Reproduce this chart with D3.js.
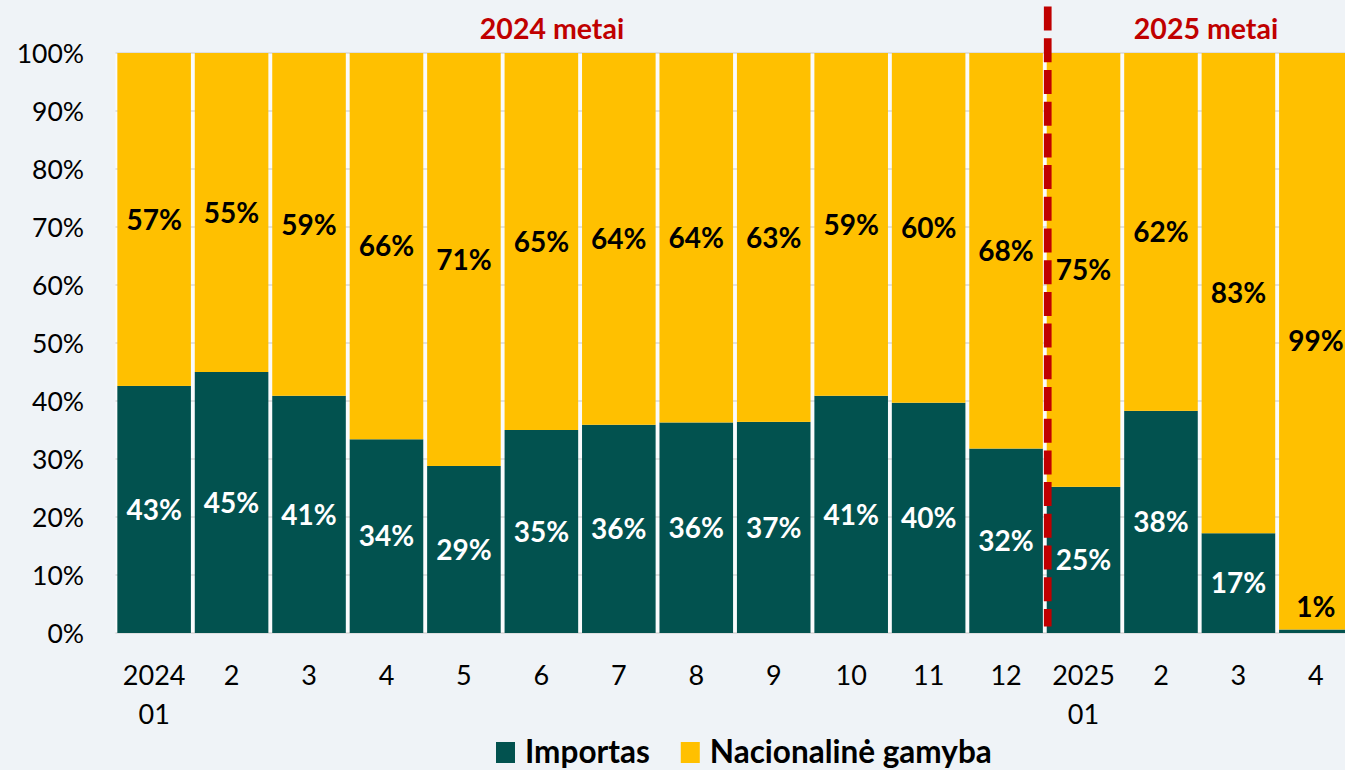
<!DOCTYPE html>
<html>
<head>
<meta charset="utf-8">
<script src="https://cdn.jsdelivr.net/npm/d3@7"></script>
<style>
  body { margin: 0; background: #eff3f7; }
  svg { display: block; font-family: Lato, "Open Sans", sans-serif; }
</style>
</head>
<body>
<svg id="chart"></svg>
<script>
// months, shares (%)
const months = ["2024\n01", "2", "3", "4", "5", "6", "7", "8", "9", "10", "11", "12", "2025\n01", "2 ", "3 ", "4 "];
const importas = [42.6, 45.0, 40.9, 33.4, 28.8, 35.0, 35.9, 36.3, 36.4, 40.9, 39.7, 31.8, 25.2, 38.3, 17.2, 0.6];
const nacionaline = [57.4, 55.0, 59.1, 66.6, 71.2, 65.0, 64.1, 63.7, 63.6, 59.1, 60.3, 68.2, 74.8, 61.7, 82.8, 99.4];
const importasLabels = ["43%", "45%", "41%", "34%", "29%", "35%", "36%", "36%", "37%", "41%", "40%", "32%", "25%", "38%", "17%", ""];
const nacionalineLabels = ["57%", "55%", "59%", "66%", "71%", "65%", "64%", "64%", "63%", "59%", "60%", "68%", "75%", "62%", "83%", "99%"];
const yTicks = [0, 10, 20, 30, 40, 50, 60, 70, 80, 90, 100];
const seriesNames = ["Importas", "Nacionalinė gamyba"];
const yearLabels = ["2024 metai", "2025 metai"];

const width = 1345, height = 770;
const colors = ["#02524f", "#ffc000"];

const svg = d3.select("#chart").attr("width", width).attr("height", height);

const x = d3.scaleBand().domain(months).range([115.4, 1354.6])
  .paddingInner(0.05).paddingOuter(0.025);
const y = d3.scaleLinear().domain([0, 100]).range([633, 53]);

// plot area (white shows between bars)
svg.append("rect")
  .attr("x", x.range()[0]).attr("y", y(100))
  .attr("width", x.range()[1] - x.range()[0]).attr("height", y(0) - y(100))
  .attr("fill", "#fafbfc");

// gridlines
svg.append("g").selectAll("line")
  .data(yTicks)
  .join("line")
  .attr("x1", x.range()[0]).attr("x2", x.range()[1])
  .attr("y1", d => y(d)).attr("y2", d => y(d))
  .attr("stroke", "#d9d9d9").attr("stroke-width", 1.5);

// stacked bars
const rows = months.map((m, i) => ({ month: m, Importas: importas[i], "Nacionalinė gamyba": nacionaline[i] }));
const stack = d3.stack().keys(seriesNames)(rows);

svg.append("g").selectAll("g")
  .data(stack)
  .join("g")
  .attr("fill", (d, i) => colors[i])
  .selectAll("rect")
  .data(d => d)
  .join("rect")
  .attr("x", d => x(d.data.month))
  .attr("y", d => y(d[1]))
  .attr("width", x.bandwidth())
  .attr("height", d => y(d[0]) - y(d[1]));

// value labels
const labelSets = [importasLabels, nacionalineLabels];
svg.append("g").selectAll("g")
  .data(stack)
  .join("g")
  .attr("fill", (d, i) => i === 0 ? "#ffffff" : "#000000")
  .selectAll("text")
  .data((d, si) => d.map((p, i) => ({ p, text: labelSets[si][i] })))
  .join("text")
  .attr("x", d => x(d.p.data.month) + x.bandwidth() / 2)
  .attr("y", d => (y(d.p[0]) + y(d.p[1])) / 2 + 3)
  .attr("text-anchor", "middle")
  .attr("dominant-baseline", "middle")
  .attr("font-size", 28)
  .attr("font-weight", "bold")
  .text(d => d.text);

// 1% label above the tiny import bar
svg.append("text")
  .attr("x", x("4 ") + x.bandwidth() / 2)
  .attr("y", y(importas[15]) - 20)
  .attr("text-anchor", "middle")
  .attr("dominant-baseline", "middle")
  .attr("font-size", 28)
  .attr("font-weight", "bold")
  .text("1%");

// y axis
const yAxis = svg.append("g")
  .attr("transform", `translate(${84},0)`)
  .call(d3.axisLeft(y).tickValues(yTicks).tickFormat(d => d + "%").tickSize(0).tickPadding(0));
yAxis.select(".domain").remove();
yAxis.selectAll("text").attr("font-size", 26.5).attr("font-family", "Lato").attr("fill", "#000").attr("dy", "0.35em");

// x axis (two-line labels)
const xAxis = svg.append("g")
  .attr("transform", `translate(0,${y(0)})`)
  .call(d3.axisBottom(x).tickSize(0).tickFormat(""));
xAxis.select(".domain").remove();
xAxis.selectAll(".tick").each(function (d) {
  const t = d3.select(this).append("text")
    .attr("fill", "#000").attr("font-size", 27).attr("font-family", "Lato")
    .attr("text-anchor", "middle").attr("y", 52);
  d.trim().split("\n").forEach((line, k) => {
    t.append("tspan").attr("x", 0).attr("dy", k === 0 ? 0 : 38.5).text(line);
  });
});

// year divider
const divX = x("2025\n01") + 1;
svg.append("line")
  .attr("x1", divX).attr("x2", divX)
  .attr("y1", y(108)).attr("y2", y(1.1))
  .attr("stroke", "#c00000").attr("stroke-width", 7.7)
  .attr("stroke-dasharray", "24 7.7");

svg.append("g").selectAll("text")
  .data(yearLabels)
  .join("text")
  .attr("x", (d, i) => [552, 1206][i])
  .attr("y", 39)
  .attr("text-anchor", "middle")
  .attr("font-size", 28.5)
  .attr("font-weight", "bold")
  .attr("fill", "#c00000")
  .text(d => d);

// legend
const legend = svg.append("g").attr("transform", "translate(496,742)");
let lx = 0;
seriesNames.forEach((name, i) => {
  const item = legend.append("g").attr("transform", `translate(${lx},0)`);
  item.append("rect").attr("width", 19).attr("height", 21).attr("fill", colors[i]);
  const txt = item.append("text")
    .attr("x", 29).attr("y", 21)
    .attr("font-size", 31.5).attr("font-weight", "bold").attr("fill", "#000")
    .text(name);
  lx += 29 + txt.node().getComputedTextLength() + 31;
});
</script>
</body>
</html>
